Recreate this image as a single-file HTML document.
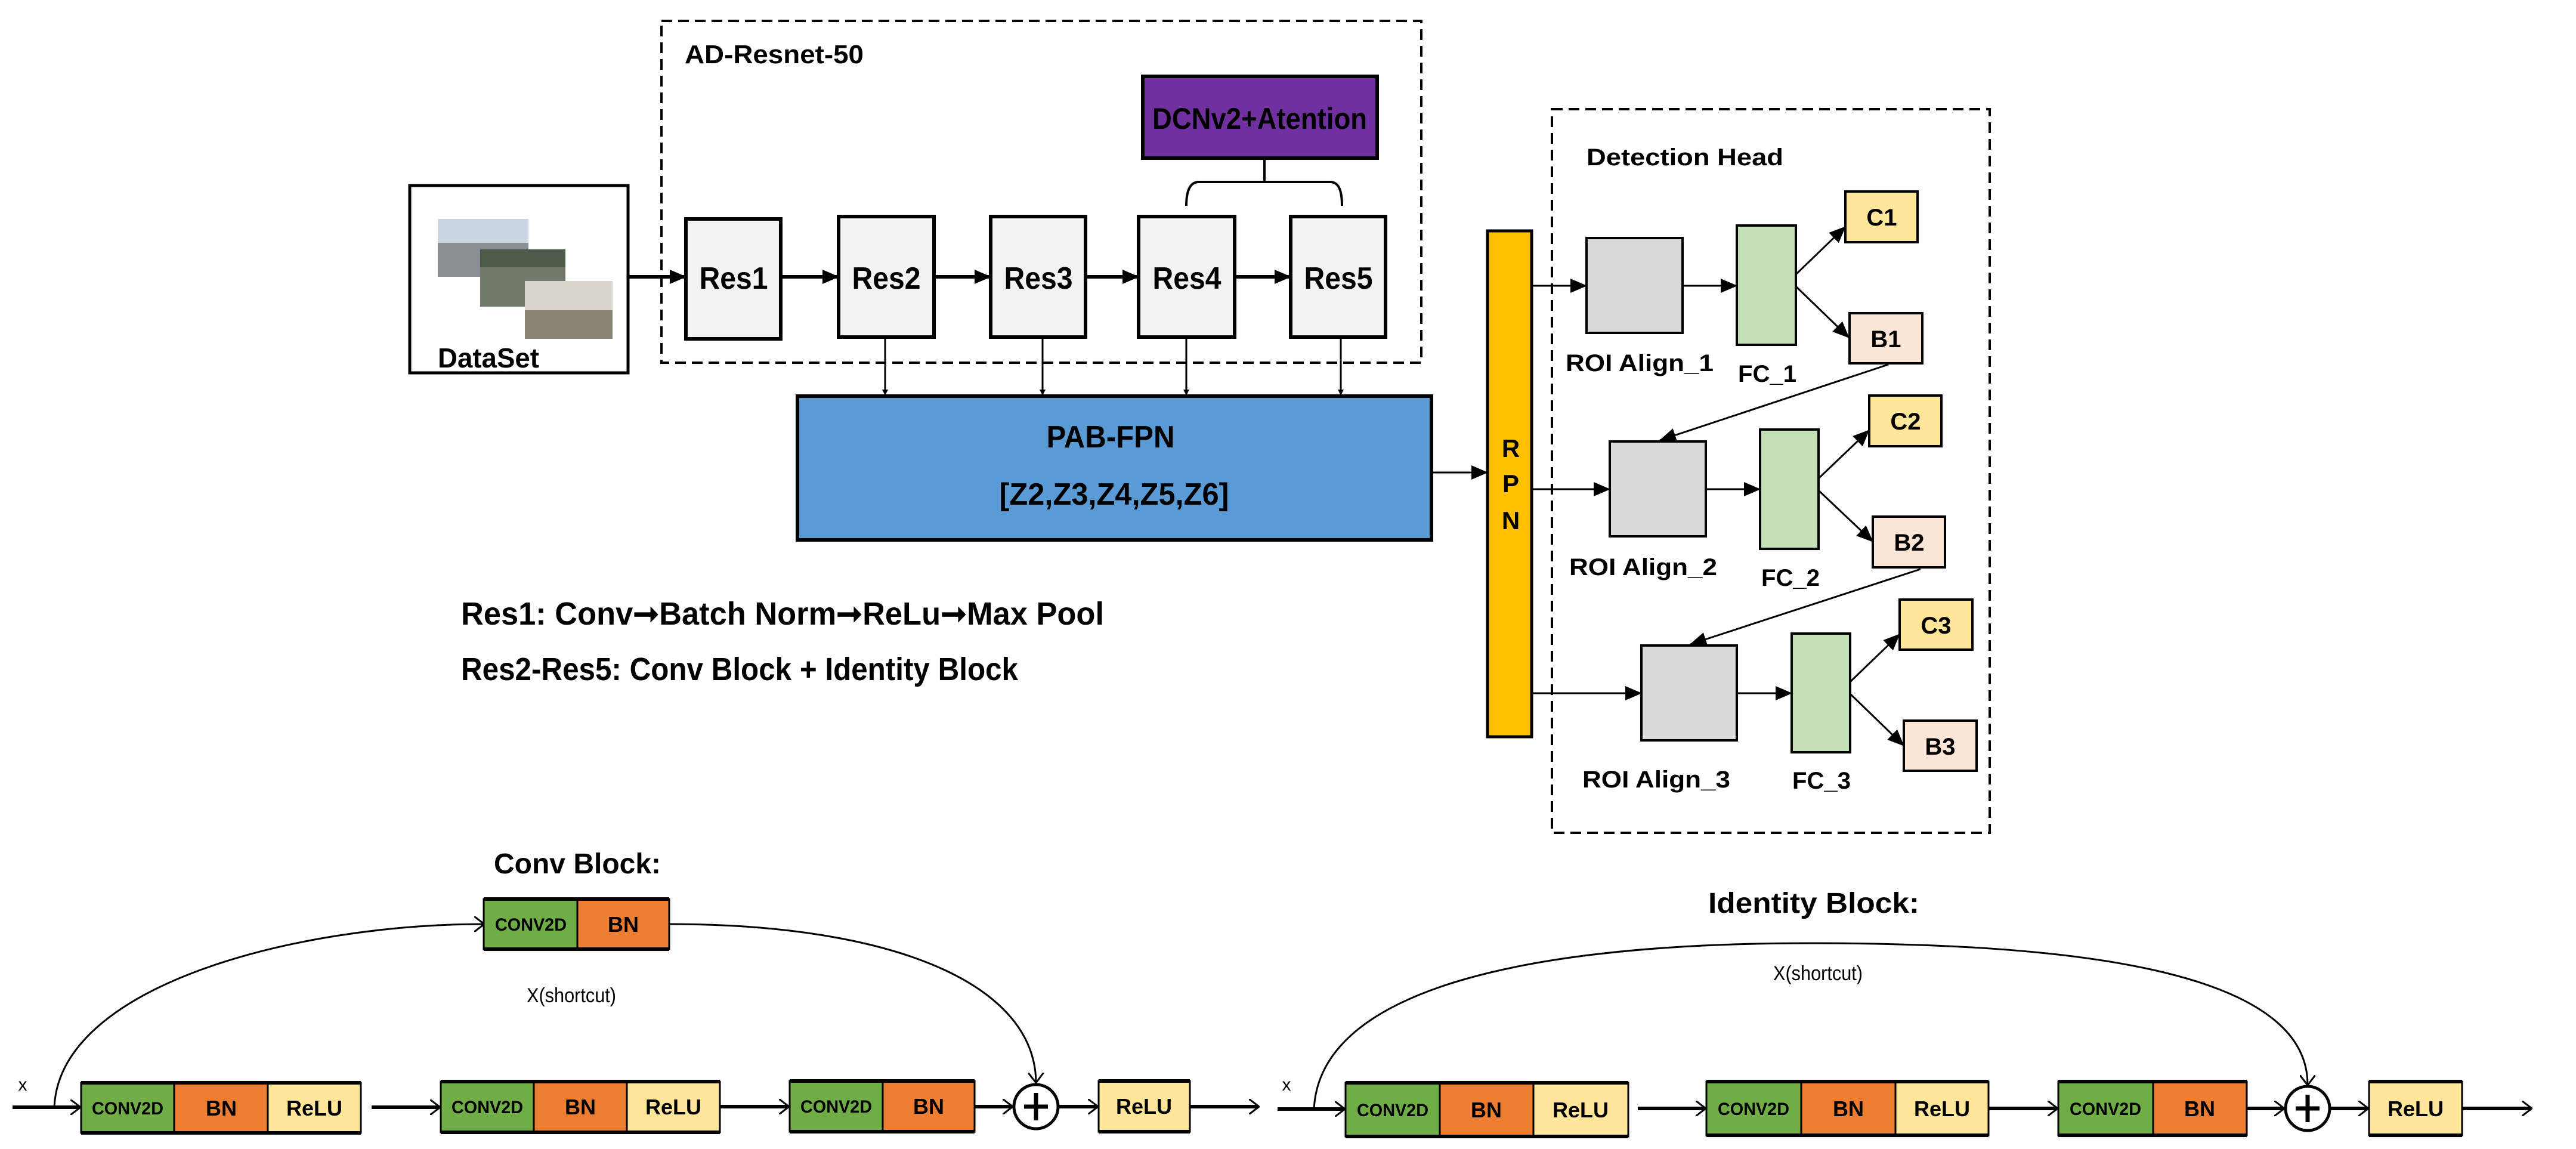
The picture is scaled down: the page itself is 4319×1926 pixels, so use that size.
<!DOCTYPE html>
<html><head><meta charset="utf-8"><style>html,body{margin:0;padding:0;background:#fff}svg{display:block}</style></head><body>
<svg width="4319" height="1926" viewBox="0 0 4319 1926" xmlns="http://www.w3.org/2000/svg" font-family="'Liberation Sans', sans-serif">
<defs>
<marker id="a" markerWidth="10" markerHeight="10" refX="9" refY="5" orient="auto" markerUnits="userSpaceOnUse" viewBox="0 0 10 10"><path d="M0,0 L10,5 L0,10 z" fill="#000"/></marker>
<marker id="ab" markerWidth="28" markerHeight="24" refX="27" refY="12" orient="auto" markerUnits="userSpaceOnUse" viewBox="0 0 28 24"><path d="M0,0 L28,12 L0,24 z" fill="#000"/></marker>
<marker id="av" markerWidth="18" markerHeight="26" refX="16" refY="13" orient="auto" markerUnits="userSpaceOnUse" viewBox="0 0 18 26"><path d="M0,0 L17,13 L0,26" fill="none" stroke="#000" stroke-width="3"/></marker>
</defs>

<rect x="1109" y="35" width="1274" height="573" fill="none" stroke="#000" stroke-width="4" stroke-dasharray="18,10"/>
<text x="1148" y="106" font-size="44" font-weight="bold" textLength="300" lengthAdjust="spacingAndGlyphs">AD-Resnet-50</text>

<rect x="1916" y="128" width="393" height="137" fill="#7030A0" stroke="#000" stroke-width="6"/>
<text x="2112" y="216" font-size="50" font-weight="bold" text-anchor="middle" textLength="360" lengthAdjust="spacingAndGlyphs">DCNv2+Atention</text>
<path d="M2120,265 V305 M1989,345 C1989,320 1995,305 2010,305 H2230 C2245,305 2250,320 2250,345" fill="none" stroke="#000" stroke-width="4"/>

<rect x="687" y="311" width="366" height="314" fill="#fff" stroke="#000" stroke-width="5"/>
<rect x="734" y="367" width="152" height="97" fill="#8a8f95"/>
<rect x="734" y="367" width="152" height="40" fill="#c8d4e0"/>
<rect x="805" y="418" width="143" height="96" fill="#6f7a6a"/>
<rect x="805" y="418" width="143" height="30" fill="#4d5a48"/>
<rect x="880" y="471" width="147" height="97" fill="#d9d5cc"/>
<rect x="880" y="520" width="147" height="48" fill="#8b8373"/>
<text x="734" y="616" font-size="46" font-weight="bold" textLength="170" lengthAdjust="spacingAndGlyphs">DataSet</text>

<g fill="#F2F2F2" stroke="#000" stroke-width="6">
<rect x="1150" y="367" width="159" height="201"/>
<rect x="1406" y="363" width="160" height="202"/>
<rect x="1661" y="363" width="159" height="202"/>
<rect x="1909" y="363" width="161" height="202"/>
<rect x="2164" y="363" width="159" height="202"/>
</g>
<g font-size="52" font-weight="bold" text-anchor="middle">
<text x="1230" y="484" textLength="115" lengthAdjust="spacingAndGlyphs">Res1</text>
<text x="1486" y="484" textLength="115" lengthAdjust="spacingAndGlyphs">Res2</text>
<text x="1741" y="484" textLength="115" lengthAdjust="spacingAndGlyphs">Res3</text>
<text x="1990" y="484" textLength="115" lengthAdjust="spacingAndGlyphs">Res4</text>
<text x="2244" y="484" textLength="115" lengthAdjust="spacingAndGlyphs">Res5</text>
</g>
<g stroke="#000" stroke-width="6" marker-end="url(#ab)">
<line x1="1053" y1="464" x2="1150" y2="464"/>
<line x1="1309" y1="464" x2="1406" y2="464"/>
<line x1="1566" y1="464" x2="1661" y2="464"/>
<line x1="1820" y1="464" x2="1909" y2="464"/>
<line x1="2070" y1="464" x2="2164" y2="464"/>
</g>
<g stroke="#000" stroke-width="3">
<line x1="1484" y1="566" x2="1484" y2="662" marker-end="url(#a)"/>
<line x1="1748" y1="566" x2="1748" y2="662" marker-end="url(#a)"/>
<line x1="1989" y1="566" x2="1989" y2="662" marker-end="url(#a)"/>
<line x1="2248" y1="566" x2="2248" y2="662" marker-end="url(#a)"/>
</g>

<rect x="1337" y="664" width="1063" height="241" fill="#5B9BD5" stroke="#000" stroke-width="6"/>
<text x="1862" y="750" font-size="52" font-weight="bold" text-anchor="middle" textLength="215" lengthAdjust="spacingAndGlyphs">PAB-FPN</text>
<text x="1868" y="846" font-size="52" font-weight="bold" text-anchor="middle" textLength="385" lengthAdjust="spacingAndGlyphs">[Z2,Z3,Z4,Z5,Z6]</text>
<line x1="2400" y1="792" x2="2494" y2="792" stroke="#000" stroke-width="3" marker-end="url(#ab)"/>

<text x="773" y="1047" font-size="54" font-weight="bold" textLength="1078" lengthAdjust="spacingAndGlyphs">Res1: Conv➞Batch Norm➞ReLu➞Max Pool</text>
<text x="773" y="1140" font-size="54" font-weight="bold" textLength="934" lengthAdjust="spacingAndGlyphs">Res2-Res5: Conv Block + Identity Block</text>

<rect x="2494" y="387" width="74" height="848" fill="#FFC000" stroke="#000" stroke-width="5"/>
<g font-size="42" font-weight="bold" text-anchor="middle">
<text x="2533" y="766">R</text><text x="2533" y="825">P</text><text x="2533" y="887">N</text>
</g>

<rect x="2602" y="183" width="734" height="1213" fill="none" stroke="#000" stroke-width="4" stroke-dasharray="18,10"/>
<text x="2660" y="277" font-size="40" font-weight="bold" textLength="330" lengthAdjust="spacingAndGlyphs">Detection Head</text>

<g stroke="#000" stroke-width="4">
<rect x="2660" y="399" width="161" height="159" fill="#D9D9D9"/>
<rect x="2699" y="740" width="161" height="159" fill="#D9D9D9"/>
<rect x="2752" y="1082" width="160" height="159" fill="#D9D9D9"/>
<rect x="2912" y="378" width="99" height="200" fill="#C5E0B4"/>
<rect x="2951" y="720" width="98" height="200" fill="#C5E0B4"/>
<rect x="3004" y="1062" width="98" height="199" fill="#C5E0B4"/>
<rect x="3094" y="321" width="121" height="85" fill="#FFE699"/>
<rect x="3134" y="663" width="121" height="85" fill="#FFE699"/>
<rect x="3185" y="1005" width="122" height="84" fill="#FFE699"/>
<rect x="3101" y="525" width="122" height="84" fill="#FBE5D6"/>
<rect x="3140" y="866" width="121" height="85" fill="#FBE5D6"/>
<rect x="3192" y="1208" width="122" height="84" fill="#FBE5D6"/>
</g>
<g font-size="40" font-weight="bold" text-anchor="middle">
<text x="3155" y="378">C1</text><text x="3162" y="582">B1</text>
<text x="3195" y="720">C2</text><text x="3201" y="923">B2</text>
<text x="3246" y="1062">C3</text><text x="3253" y="1265">B3</text>
</g>
<g font-size="40" font-weight="bold">
<text x="2625" y="622" textLength="248" lengthAdjust="spacingAndGlyphs">ROI Align_1</text>
<text x="2914" y="640" textLength="98" lengthAdjust="spacingAndGlyphs">FC_1</text>
<text x="2631" y="964" textLength="248" lengthAdjust="spacingAndGlyphs">ROI Align_2</text>
<text x="2953" y="982" textLength="98" lengthAdjust="spacingAndGlyphs">FC_2</text>
<text x="2653" y="1320" textLength="248" lengthAdjust="spacingAndGlyphs">ROI Align_3</text>
<text x="3005" y="1322" textLength="98" lengthAdjust="spacingAndGlyphs">FC_3</text>
</g>
<g stroke="#000" stroke-width="3" marker-end="url(#ab)">
<line x1="2568" y1="479" x2="2660" y2="479"/>
<line x1="2821" y1="479" x2="2912" y2="479"/>
<line x1="2568" y1="820" x2="2699" y2="820"/>
<line x1="2860" y1="820" x2="2951" y2="820"/>
<line x1="2568" y1="1162" x2="2752" y2="1162"/>
<line x1="2912" y1="1162" x2="3004" y2="1162"/>
<line x1="3011" y1="460" x2="3094" y2="380"/>
<line x1="3011" y1="480" x2="3100" y2="566"/>
<line x1="3049" y1="802" x2="3134" y2="721"/>
<line x1="3049" y1="822" x2="3140" y2="908"/>
<line x1="3102" y1="1143" x2="3185" y2="1063"/>
<line x1="3102" y1="1163" x2="3192" y2="1250"/>
<line x1="3166" y1="611" x2="2783" y2="738"/>
<line x1="3220" y1="954" x2="2834" y2="1080"/>
</g>

<text x="968" y="1464" font-size="48" font-weight="bold" text-anchor="middle" textLength="280" lengthAdjust="spacingAndGlyphs">Conv Block:</text>
<path d="M91,1856 C100,1650 500,1549 811,1549" fill="none" stroke="#000" stroke-width="3" marker-end="url(#av)"/>
<path d="M1122,1549 C1500,1549 1735,1650 1737,1814" fill="none" stroke="#000" stroke-width="3" marker-end="url(#av)"/>
<text x="958" y="1680" font-size="34" text-anchor="middle" textLength="150" lengthAdjust="spacingAndGlyphs">X(shortcut)</text>

<g stroke="#000" stroke-width="3">
<rect x="811" y="1507" width="157" height="84" fill="#70AD47"/>
<rect x="968" y="1507" width="154" height="84" fill="#ED7D31"/>
<rect x="136" y="1815" width="156" height="84" fill="#70AD47"/>
<rect x="292" y="1815" width="157" height="84" fill="#ED7D31"/>
<rect x="449" y="1815" width="156" height="84" fill="#FFE699"/>
<rect x="739" y="1813" width="156" height="85" fill="#70AD47"/>
<rect x="895" y="1813" width="156" height="85" fill="#ED7D31"/>
<rect x="1051" y="1813" width="156" height="85" fill="#FFE699"/>
<rect x="1324" y="1812" width="156" height="85" fill="#70AD47"/>
<rect x="1480" y="1812" width="154" height="85" fill="#ED7D31"/>
<rect x="1842" y="1812" width="153" height="85" fill="#FFE699"/>
</g>
<g fill="#000">
<rect x="811" y="1504" width="311" height="6"/><rect x="811" y="1588" width="311" height="6"/>
<rect x="136" y="1812" width="469" height="6"/><rect x="136" y="1896" width="469" height="6"/>
<rect x="739" y="1810" width="468" height="6"/><rect x="739" y="1895" width="468" height="6"/>
<rect x="1324" y="1809" width="310" height="6"/><rect x="1324" y="1894" width="310" height="6"/>
<rect x="1842" y="1809" width="153" height="6"/><rect x="1842" y="1894" width="153" height="6"/>
</g>
<g stroke="#000" stroke-width="6">
<line x1="21" y1="1856" x2="134" y2="1856" marker-end="url(#av)"/>
<line x1="623" y1="1856" x2="737" y2="1856" marker-end="url(#av)"/>
<line x1="1207" y1="1855" x2="1322" y2="1855" marker-end="url(#av)"/>
<line x1="1634" y1="1855" x2="1697" y2="1855" marker-end="url(#av)"/>
<line x1="1776" y1="1855" x2="1840" y2="1855" marker-end="url(#av)"/>
<line x1="1995" y1="1855" x2="2110" y2="1855" marker-end="url(#av)"/>
</g>
<circle cx="1737" cy="1855" r="37" fill="#fff" stroke="#000" stroke-width="5"/>
<path d="M1737,1832 V1878 M1717,1855 H1757" stroke="#000" stroke-width="7"/>
<text x="38" y="1828" font-size="30" text-anchor="middle">x</text>

<text x="3041" y="1530" font-size="48" font-weight="bold" text-anchor="middle" textLength="354" lengthAdjust="spacingAndGlyphs">Identity Block:</text>
<path d="M2203,1859 C2215,1620 2700,1581 3034,1581 C3450,1581 3869,1620 3869,1818" fill="none" stroke="#000" stroke-width="3" marker-end="url(#av)"/>
<text x="3048" y="1643" font-size="34" text-anchor="middle" textLength="150" lengthAdjust="spacingAndGlyphs">X(shortcut)</text>
<text x="2157" y="1828" font-size="30" text-anchor="middle">x</text>
<g stroke="#000" stroke-width="3">
<rect x="2256" y="1815" width="158" height="90" fill="#70AD47"/>
<rect x="2414" y="1815" width="157" height="90" fill="#ED7D31"/>
<rect x="2571" y="1815" width="159" height="90" fill="#FFE699"/>
<rect x="2861" y="1813" width="159" height="90" fill="#70AD47"/>
<rect x="3020" y="1813" width="158" height="90" fill="#ED7D31"/>
<rect x="3178" y="1813" width="156" height="90" fill="#FFE699"/>
<rect x="3451" y="1813" width="159" height="90" fill="#70AD47"/>
<rect x="3610" y="1813" width="157" height="90" fill="#ED7D31"/>
<rect x="3972" y="1813" width="156" height="90" fill="#FFE699"/>
</g>
<g fill="#000">
<rect x="2256" y="1812" width="474" height="6"/><rect x="2256" y="1902" width="474" height="6"/>
<rect x="2861" y="1810" width="473" height="6"/><rect x="2861" y="1900" width="473" height="6"/>
<rect x="3451" y="1810" width="316" height="6"/><rect x="3451" y="1900" width="316" height="6"/>
<rect x="3972" y="1810" width="156" height="6"/><rect x="3972" y="1900" width="156" height="6"/>
</g>
<g stroke="#000" stroke-width="6">
<line x1="2142" y1="1859" x2="2254" y2="1859" marker-end="url(#av)"/>
<line x1="2746" y1="1858" x2="2859" y2="1858" marker-end="url(#av)"/>
<line x1="3334" y1="1858" x2="3449" y2="1858" marker-end="url(#av)"/>
<line x1="3767" y1="1858" x2="3829" y2="1858" marker-end="url(#av)"/>
<line x1="3908" y1="1858" x2="3970" y2="1858" marker-end="url(#av)"/>
<line x1="4128" y1="1858" x2="4244" y2="1858" marker-end="url(#av)"/>
</g>
<circle cx="3869" cy="1858" r="37" fill="#fff" stroke="#000" stroke-width="5"/>
<path d="M3869,1835 V1881 M3849,1858 H3889" stroke="#000" stroke-width="7"/>

<g font-size="30" font-weight="bold" text-anchor="middle">
<text x="890" y="1560" textLength="120" lengthAdjust="spacingAndGlyphs">CONV2D</text>
<text x="1045" y="1562" font-size="36">BN</text>
<text x="214" y="1868" textLength="120" lengthAdjust="spacingAndGlyphs">CONV2D</text>
<text x="371" y="1870" font-size="36">BN</text>
<text x="527" y="1870" font-size="36">ReLU</text>
<text x="817" y="1866" textLength="120" lengthAdjust="spacingAndGlyphs">CONV2D</text>
<text x="973" y="1868" font-size="36">BN</text>
<text x="1129" y="1868" font-size="36">ReLU</text>
<text x="1402" y="1865" textLength="120" lengthAdjust="spacingAndGlyphs">CONV2D</text>
<text x="1557" y="1867" font-size="36">BN</text>
<text x="1918" y="1867" font-size="36">ReLU</text>
<text x="2335" y="1871" textLength="120" lengthAdjust="spacingAndGlyphs">CONV2D</text>
<text x="2492" y="1873" font-size="36">BN</text>
<text x="2650" y="1873" font-size="36">ReLU</text>
<text x="2940" y="1869" textLength="120" lengthAdjust="spacingAndGlyphs">CONV2D</text>
<text x="3099" y="1871" font-size="36">BN</text>
<text x="3256" y="1871" font-size="36">ReLU</text>
<text x="3530" y="1869" textLength="120" lengthAdjust="spacingAndGlyphs">CONV2D</text>
<text x="3688" y="1871" font-size="36">BN</text>
<text x="4050" y="1871" font-size="36">ReLU</text>
</g>
</svg>
</body></html>
